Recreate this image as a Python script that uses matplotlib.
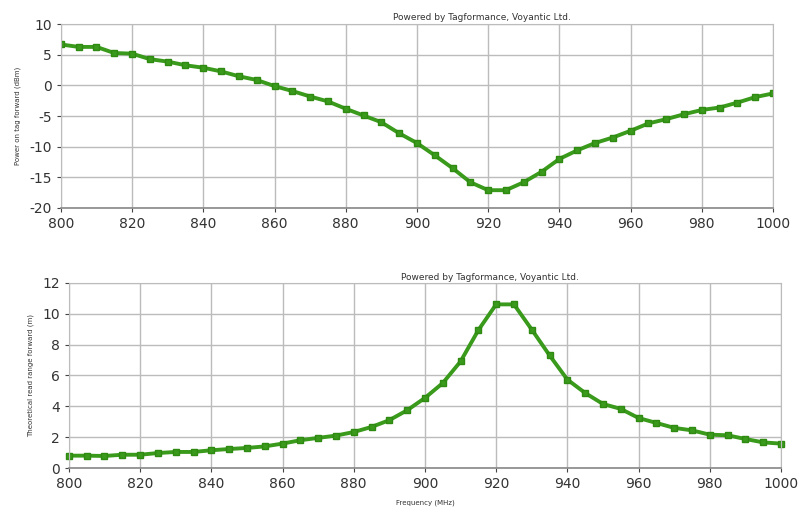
import numpy as np
import matplotlib
matplotlib.use("Agg")
import matplotlib.pyplot as plt

# frequency sweep, 5 MHz steps
freq = np.arange(800, 1001, 5)

power_fwd = [6.7, 6.3, 6.3, 5.3, 5.2, 4.3, 3.9, 3.3, 2.9, 2.3,
             1.5, 0.9, -0.1, -0.9, -1.8, -2.6, -3.8, -4.9, -6.0, -7.8,
             -9.4, -11.4, -13.5, -15.8, -17.1, -17.1, -15.8, -14.1, -12.0, -10.6,
             -9.4, -8.5, -7.4, -6.2, -5.5, -4.7, -4.0, -3.6, -2.8, -1.9,
             -1.3]

read_range = [0.8, 0.8, 0.78, 0.86, 0.86, 0.97, 1.04, 1.04, 1.15, 1.23,
              1.3, 1.4, 1.58, 1.8, 1.95, 2.1, 2.33, 2.66, 3.1, 3.74,
              4.54, 5.5, 6.9, 8.93, 10.6, 10.6, 8.97, 7.3, 5.73, 4.86,
              4.15, 3.83, 3.24, 2.92, 2.6, 2.44, 2.16, 2.12, 1.88, 1.66,
              1.58]

x_ticks = np.arange(800, 1001, 20)
top_yticks = np.arange(-20, 11, 5)
bot_yticks = np.arange(0, 13, 2)

green = '#3a9a1c'
grid_col = '#bcbcbc'
credit = "Powered by Tagformance, Voyantic Ltd."

plt.rcParams['font.family'] = ['DejaVu Sans']
plt.rcParams['axes.unicode_minus'] = False

fig = plt.figure(figsize=(8.01, 5.16), dpi=100)
ax1 = fig.add_axes([0.076, 0.597, 0.889, 0.356])
ax2 = fig.add_axes([0.086, 0.093, 0.889, 0.359])


def style(ax, yticks, ylo, yhi, ylabel):
    ax.set_xlim(800, 1000)
    ax.set_ylim(ylo, yhi)
    ax.set_xticks(x_ticks)
    ax.set_yticks(yticks)
    ax.grid(True, color=grid_col, linewidth=1.0)
    ax.set_axisbelow(True)
    for s in ax.spines.values():
        s.set_color(grid_col)
    ax.spines['bottom'].set_color('#888888')
    ax.spines['bottom'].set_linewidth(1.2)
    ax.tick_params(axis='both', labelsize=10, colors='#444444', length=3,
                   labelcolor='#333333')
    ax.set_ylabel(ylabel, fontsize=5, color='#333333', labelpad=6)


ax1.plot(freq, power_fwd, color=green, linewidth=2.8, marker='s',
         markersize=5, markerfacecolor=green, markeredgecolor='#2e8a10')
style(ax1, top_yticks, -20, 10, "Power on tag forward (dBm)")

ax2.plot(freq, read_range, color=green, linewidth=2.8, marker='s',
         markersize=5, markerfacecolor=green, markeredgecolor='#2e8a10',
         clip_on=False)
style(ax2, bot_yticks, 0, 12, "Theoretical read range forward (m)")
ax2.set_xlabel("Frequency (MHz)", fontsize=5, color='#333333', labelpad=6)

fig.text(0.602, 0.962, credit, fontsize=6.5, ha='center', color='#333333')
fig.text(0.612, 0.458, credit, fontsize=6.5, ha='center', color='#333333')

fig.savefig('out.png', dpi=100, facecolor='white')
